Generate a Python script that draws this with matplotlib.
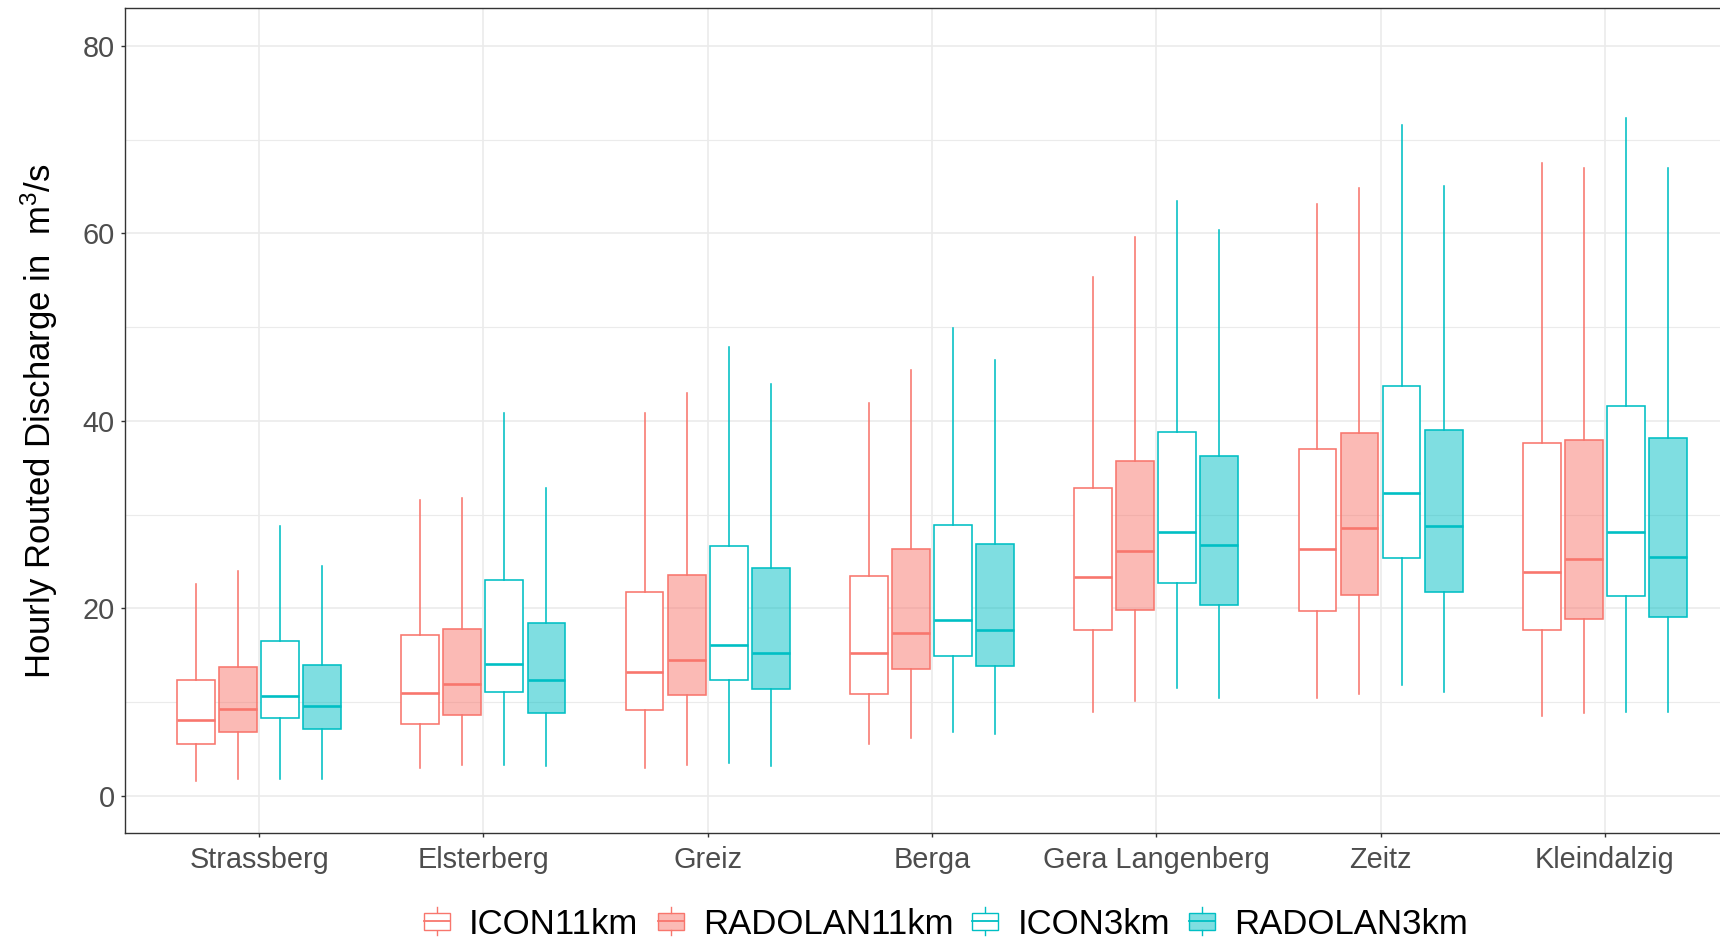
import matplotlib
matplotlib.use('Agg')
import matplotlib.pyplot as plt
from matplotlib.patches import Patch, Rectangle
from matplotlib.lines import Line2D
from matplotlib.legend_handler import HandlerBase
from matplotlib.colors import to_rgba

plt.rcParams['font.family'] = ['Liberation Sans', 'DejaVu Sans']
plt.rcParams['mathtext.fontset'] = 'custom'
plt.rcParams['mathtext.rm'] = 'Liberation Sans'

stations = ['Strassberg', 'Elsterberg', 'Greiz', 'Berga', 'Gera Langenberg', 'Zeitz', 'Kleindalzig']
series = ['ICON11km', 'RADOLAN11km', 'ICON3km', 'RADOLAN3km']

# five-number summaries per series (whisker low, Q1, median, Q3, whisker high)
icon11_low = [1.6, 3.0, 3.0, 5.5, 8.9, 10.4, 8.5]
icon11_q1 = [5.5, 7.7, 9.1, 10.9, 17.7, 19.7, 17.7]
icon11_med = [8.1, 11.0, 13.2, 15.2, 23.3, 26.3, 23.9]
icon11_q3 = [12.3, 17.2, 21.7, 23.4, 32.8, 37.0, 37.6]
icon11_high = [22.6, 31.6, 40.8, 41.9, 55.3, 63.1, 67.5]

radolan11_low = [1.8, 3.3, 3.3, 6.2, 10.1, 10.9, 8.8]
radolan11_q1 = [6.8, 8.6, 10.7, 13.5, 19.8, 21.4, 18.9]
radolan11_med = [9.3, 11.9, 14.5, 17.4, 26.1, 28.6, 25.3]
radolan11_q3 = [13.7, 17.8, 23.5, 26.3, 35.7, 38.7, 38.0]
radolan11_high = [24.0, 31.8, 43.0, 45.4, 59.6, 64.8, 67.0]

icon3_low = [1.8, 3.3, 3.5, 6.8, 11.5, 11.8, 8.9]
icon3_q1 = [8.3, 11.1, 12.3, 14.9, 22.7, 25.4, 21.3]
icon3_med = [10.6, 14.1, 16.1, 18.8, 28.1, 32.3, 28.1]
icon3_q3 = [16.5, 23.0, 26.6, 28.9, 38.8, 43.7, 41.6]
icon3_high = [28.8, 40.8, 47.9, 49.9, 63.4, 71.5, 72.3]

radolan3_low = [1.8, 3.2, 3.2, 6.6, 10.4, 11.1, 8.9]
radolan3_q1 = [7.1, 8.8, 11.4, 13.8, 20.3, 21.7, 19.1]
radolan3_med = [9.6, 12.4, 15.2, 17.7, 26.7, 28.8, 25.5]
radolan3_q3 = [14.0, 18.4, 24.3, 26.9, 36.2, 39.0, 38.2]
radolan3_high = [24.5, 32.8, 43.9, 46.5, 60.3, 65.0, 67.0]

summaries = {
    'ICON11km': (icon11_low, icon11_q1, icon11_med, icon11_q3, icon11_high),
    'RADOLAN11km': (radolan11_low, radolan11_q1, radolan11_med, radolan11_q3, radolan11_high),
    'ICON3km': (icon3_low, icon3_q1, icon3_med, icon3_q3, icon3_high),
    'RADOLAN3km': (radolan3_low, radolan3_q1, radolan3_med, radolan3_q3, radolan3_high),
}

RED = '#F8766D'
CYAN = '#00BFC4'
styles = {
    'ICON11km': (RED, 'white'),
    'RADOLAN11km': (RED, to_rgba(RED, 0.5)),
    'ICON3km': (CYAN, 'white'),
    'RADOLAN3km': (CYAN, to_rgba(CYAN, 0.5)),
}

W, H = 1720, 941
fig = plt.figure(figsize=(W / 100, H / 100), dpi=100)
left_px, top_px, bottom_px = 124.5, 8.3, 833.3
ax = fig.add_axes([left_px / W, (H - bottom_px) / H, 1 - left_px / W, (bottom_px - top_px) / H])

dodge = 0.75 / 4
box_w = dodge * 0.9
xs = list(range(1, len(stations) + 1))
for j, name in enumerate(series):
    low, q1, med, q3, high = summaries[name]
    stats = [dict(whislo=low[i], q1=q1[i], med=med[i], q3=q3[i], whishi=high[i], fliers=[])
             for i in range(len(stations))]
    pos = [x + (j - 1.5) * dodge for x in xs]
    edge, face = styles[name]
    ax.bxp(stats, positions=pos, widths=box_w, patch_artist=True, showfliers=False,
           showcaps=False, manage_ticks=False,
           boxprops=dict(facecolor=face, edgecolor=edge, linewidth=1.15),
           whiskerprops=dict(color=edge, linewidth=1.15),
           medianprops=dict(color=edge, linewidth=1.9, solid_capstyle='butt'))

ax.set_xlim(0.4, 1 + (W - 259.0) / 224.3)
ax.set_ylim(-4, 84)
ax.set_xticks(xs)
ax.set_xticklabels(stations)
ax.set_yticks([0, 20, 40, 60, 80])
ax.set_yticks([10, 30, 50, 70], minor=True)
ax.grid(True, which='major', color='#EBEBEB', linewidth=1.2)
ax.grid(True, which='minor', axis='y', color='#EBEBEB', linewidth=0.8)
ax.set_axisbelow(True)
ax.tick_params(axis='both', which='major', length=3, width=1.0, color='#333333',
               labelsize=20.8, labelcolor='#4D4D4D', pad=4)
ax.tick_params(axis='x', which='major', pad=6.5)
ax.tick_params(axis='both', which='minor', length=0)
for s in ['left', 'bottom', 'top']:
    ax.spines[s].set_color('#333333')
    ax.spines[s].set_linewidth(1.0)
ax.spines['right'].set_visible(False)

ax.set_ylabel(r'Hourly Routed Discharge in  $\mathregular{m^{3}/s}$', fontsize=25, color='black')
ax.yaxis.set_label_coords(-0.0405, 0.5)


class BoxHandler(HandlerBase):
    def create_artists(self, legend, orig, xd, yd, width, height, fontsize, trans):
        ec = orig.get_edgecolor()
        fc = orig.get_facecolor()
        x0, y0 = -xd, -yd
        cx = x0 + width / 2
        bh = height * 0.68
        by = y0 + (height - bh) / 2
        rect = Rectangle((x0, by), width, bh, facecolor=fc, edgecolor=ec, linewidth=1.0,
                         transform=trans)
        med = Line2D([x0, x0 + width], [by + bh / 2] * 2, color=ec, linewidth=1.3, transform=trans)
        w1 = Line2D([cx, cx], [y0 - height * 0.05, by], color=ec, linewidth=1.0, transform=trans)
        w2 = Line2D([cx, cx], [by + bh, y0 + height * 1.05], color=ec, linewidth=1.0, transform=trans)
        return [w1, w2, rect, med]


handles = [Patch(facecolor=styles[n][1], edgecolor=styles[n][0]) for n in series]
fig.legend(handles, series, loc='center', bbox_to_anchor=(946 / W, 1 - 924 / H), ncol=4,
           frameon=False, fontsize=25, handlelength=0.75, handleheight=0.75,
           handletextpad=0.55, columnspacing=0.55, handler_map={Patch: BoxHandler()})

fig.savefig('out.png', dpi=100)
